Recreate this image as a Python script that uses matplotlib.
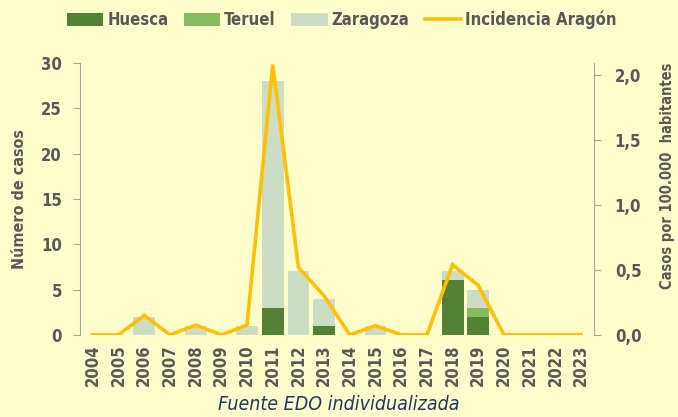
import matplotlib.pyplot as plt
import numpy as np

# datos
years = [str(y) for y in range(2004, 2024)]
huesca = [0, 0, 0, 0, 0, 0, 0, 3, 0, 1, 0, 0, 0, 0, 6, 2, 0, 0, 0, 0]
teruel = [0, 0, 0, 0, 0, 0, 0, 0, 0, 0, 0, 0, 0, 0, 0, 1, 0, 0, 0, 0]
zaragoza = [0, 0, 2, 0, 1, 0, 1, 25, 7, 3, 0, 1, 0, 0, 1, 2, 0, 0, 0, 0]
incidencia = [0, 0, 0.15, 0, 0.075, 0, 0.075, 2.08, 0.52, 0.30, 0, 0.07,
              0, 0, 0.54, 0.38, 0, 0, 0, 0]

bg = '#FFFFCC'
gris = '#595959'
plt.rcParams['font.family'] = ['DejaVu Sans']
plt.rcParams['font.weight'] = 'bold'
plt.rcParams['font.stretch'] = 'condensed'

fig = plt.figure(figsize=(6.78, 4.17), dpi=100, facecolor=bg)
ax = fig.add_axes([0.118, 0.197, 0.758, 0.652])
ax.set_facecolor(bg)

x = np.arange(len(years))
h = np.array(huesca)
t = np.array(teruel)
z = np.array(zaragoza)
w = 0.85
ax.bar(x, h, w, color='#548235', label='Huesca', zorder=2)
ax.bar(x, t, w, bottom=h, color='#86BC5E', label='Teruel', zorder=2)
ax.bar(x, z, w, bottom=h + t, color='#CCDDC4', label='Zaragoza', zorder=2)

ax.set_xlim(-0.5, len(years) - 0.5)
ax.set_ylim(0, 30)
ax.set_yticks(range(0, 31, 5))
ax.set_xticks(x)
ax.set_xticklabels(years, rotation=90, fontsize=12, color=gris, fontweight='bold')
ax.tick_params(axis='x', length=0, pad=7)
ax.tick_params(axis='y', labelsize=12, labelcolor=gris, color='#A6A6A6',
               length=5, pad=8)
for lab in ax.get_yticklabels():
    lab.set_fontweight('bold')
ax.set_ylabel('Número de casos', fontsize=11.5, color=gris, fontweight='bold')
ax.yaxis.set_label_coords(-0.103, 0.5)

for s in ['top', 'bottom', 'right']:
    ax.spines[s].set_visible(False)
ax.spines['left'].set_color('#A6A6A6')

ax2 = ax.twinx()
ax2.plot(x, incidencia, color='#FFC000', lw=2.6, label='Incidencia Aragón',
         zorder=3, solid_joinstyle='miter')
ax2.set_ylim(0, 2.0 * 272 / 260)
ax2.set_yticks([0, 0.5, 1.0, 1.5, 2.0])
ax2.set_yticklabels(['0,0', '0,5', '1,0', '1,5', '2,0'], fontsize=12,
                    color=gris, fontweight='bold')
ax2.tick_params(axis='y', color='#A6A6A6', length=5, pad=10)
for s in ['top', 'bottom', 'left']:
    ax2.spines[s].set_visible(False)
ax2.spines['right'].set_color('#A6A6A6')
ax2.set_ylabel('Casos por 100.000  habitantes', fontsize=10.5, color=gris,
               fontweight='bold')
ax2.yaxis.set_label_coords(1.128, 0.585)

hs, ls = ax.get_legend_handles_labels()
hs2, ls2 = ax2.get_legend_handles_labels()
fig.legend(hs + hs2, ls + ls2, loc='center', bbox_to_anchor=(0.504, 0.952),
           ncol=4, frameon=False, fontsize=12, labelcolor=gris,
           handlelength=2.2, handleheight=0.75, handletextpad=0.25,
           columnspacing=0.9)

fig.text(0.5, 0.03, 'Fuente EDO individualizada', ha='center', va='center',
         fontsize=14, style='italic', fontweight='normal', color='#1F3864')

fig.savefig('out.png', dpi=100, facecolor=bg)
